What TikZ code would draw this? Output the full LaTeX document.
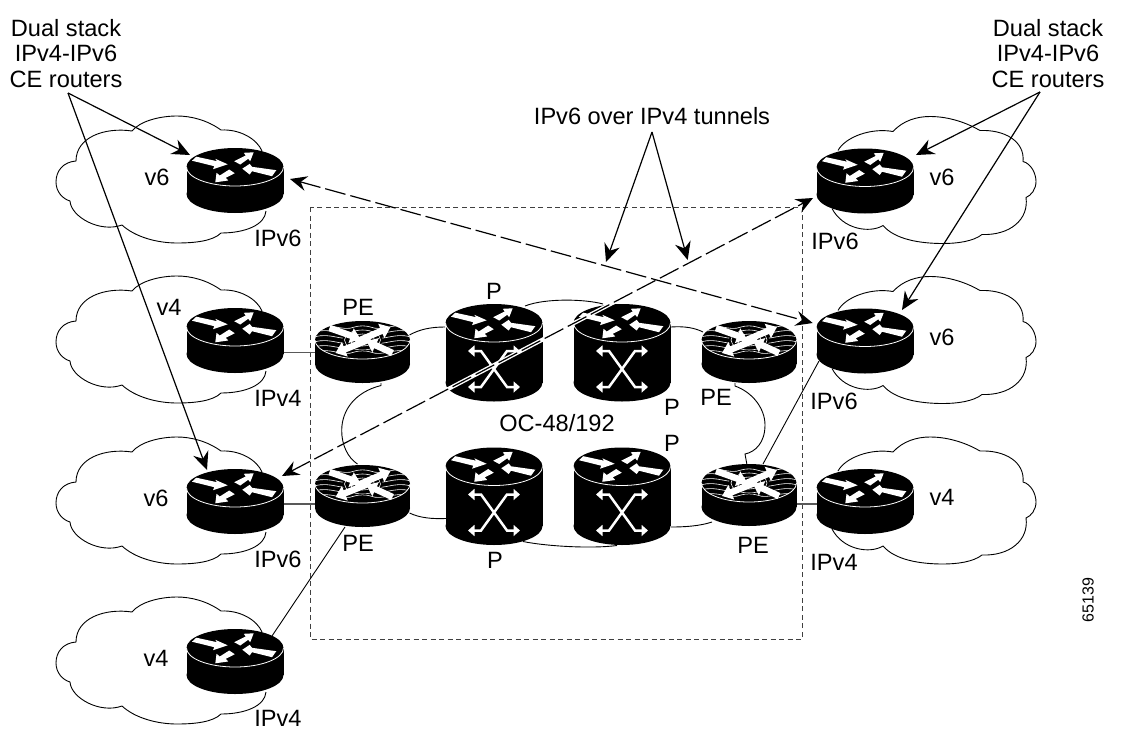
\documentclass[tikz,border=0pt]{standalone}
\usepackage{fontspec}
\setmainfont{Liberation Sans}
\usetikzlibrary{arrows.meta}
\tikzset{
  thinline/.style={line width=0.9pt,black},
  link/.style={line width=0.9pt,black},
  graylink/.style={line width=1.2pt,black!65},
  note/.style={line width=1.2pt,black,-{Stealth[length=18pt,width=16pt,inset=6pt]}},
  tunnel/.style={line width=1.2pt,black,dash pattern=on 21pt off 5pt,{Stealth[length=17pt,width=15pt,inset=6pt]}-{Stealth[length=17pt,width=15pt,inset=6pt]}},
  halo/.style={line width=4pt,white},
  frame/.style={line width=0.9pt,black!75,dash pattern=on 5pt off 3.5pt},
  lab/.style={inner sep=0pt,font=\fontsize{23.6}{25.5}\selectfont,text height=16.9pt,text depth=0pt},
  hub/.style={inner sep=0pt,minimum width=97pt,minimum height=38pt},
  whitearrow/.style={white,line width=6.5pt,-{Triangle[length=10pt,width=15pt]}},
  xarrow/.style={white,line width=2.5pt,{Triangle[length=6.5pt,width=11pt]}-{Triangle[length=6.5pt,width=11pt]}},
  cloudleft/.pic={
    \draw[thinline] (27,-16) .. controls (22,-28) and (5,-38) .. (-14,-37)
      .. controls (-28,-47) and (-44,-51) .. (-58,-51)
      .. controls (-75,-51) and (-95,-46) .. (-103,-36)
      .. controls (-130,-40) and (-159,-30) .. (-159,-6)
      .. controls (-172,-5) and (-179,4) .. (-179,15)
      .. controls (-179,25) and (-172,32) .. (-165,34)
      .. controls (-164,50) and (-135,66) .. (-113,58)
      .. controls (-100,70) and (-78,76) .. (-58,76)
      .. controls (-40,76) and (-22,74) .. (-14,66)
      .. controls (10,66) and (30,58) .. (31,44);
  },
  cloudright/.pic={
    \draw[thinline] (-27,-17) .. controls (-20,-30) and (5,-40) .. (28,-36)
      .. controls (38,-47) and (52,-51) .. (65,-51)
      .. controls (85,-51) and (103,-44) .. (115,-37)
      .. controls (140,-38) and (160,-26) .. (158,-6)
      .. controls (166,-4) and (171,6) .. (171,14)
      .. controls (171,22) and (166,28) .. (161,30)
      .. controls (164,52) and (145,68) .. (117,67)
      .. controls (108,74) and (92,76) .. (78,76)
      .. controls (55,76) and (30,72) .. (18,58)
      .. controls (5,66) and (-22,62) .. (-33,41);
  },
  routerpic/.pic={\cylinder{48.5}{27}\routertop},
  corepic/.pic={\cylinder{48.5}{59.5}\routertop
    \draw[xarrow] (-26,28) -- (-13,28) -- (13,64) -- (26,64);
    \draw[xarrow] (-26,64) -- (-13,64) -- (13,28) -- (26,28);
  },
  edgepic/.pic={\cylinder{47.5}{24}
    \begin{scope}
      \clip (0,0) ellipse[x radius=47.5pt,y radius=19pt];
      \foreach \d in {-13,-8,-3,2,7,12}{
        \draw[white,line width=0.6pt] (-48,\d) .. controls (-32,\d-5) and (-20,\d+5) .. (-8,\d)
          .. controls (-3,\d-1.5) and (3,\d-1.5) .. (8,\d)
          .. controls (20,\d+5) and (32,\d-5) .. (48,\d);
      }
      \fill[black] (0,0) ellipse[x radius=20pt,y radius=11pt];
      \draw[white,line width=0.6pt] (0,0) ellipse[x radius=12pt,y radius=6pt];
      \draw[white,line width=0.6pt] (0,0) ellipse[x radius=18pt,y radius=10pt];
    \end{scope}
    \draw[whitearrow] (-33,-12) -- (-2,-1);
    \draw[whitearrow] (-7,2) -- (28,-13);
    \draw[whitearrow] (8,-1) -- (-27,13);
    \draw[whitearrow] (30,13) -- (4,1);
  },
}
\newcommand{\cylinder}[2]{%
  \fill[black] (0,#2) ellipse[x radius=#1pt,y radius=19pt];
  \fill[black] (-#1,0) rectangle (#1,#2);
  \fill[black] (0,0) ellipse[x radius=#1pt,y radius=19pt];
  \draw[white,line width=0.8pt] (-#1,0) .. controls (-#1,10.5) and ({-0.55*#1},19) .. (0,19)
     .. controls ({0.55*#1},19) and (#1,10.5) .. (#1,0);
}
\newcommand{\routertop}{%
  \fill[white] (-43,-6.3) -- (-38.7,-10.3) -- (-18,-5.8) -- (-19.7,-8.2) -- (-7.3,-2.7) -- (-22,2.2) -- (-20.7,-0.8) -- cycle;
  \fill[white] (-0.8,-5.8) -- (5.2,-2.5) -- (13.2,-8.2) -- (15.2,-5.8) -- (18.7,-14.7) -- (8.8,-14.2) -- (10.7,-11.5) -- cycle;
  \fill[white] (41.3,3.2) -- (37,9.2) -- (17,4.2) -- (14.7,7.5) -- (7.3,1.7) -- (14.7,-3.2) -- (17,-0.2) -- cycle;
  \fill[white] (-5.8,2.5) -- (-0.2,6.2) -- (-9.2,10.8) -- (-6.8,13.5) -- (-19.7,15.3) -- (-18.5,5.8) -- (-15.2,8.5) -- cycle;
}
\begin{document}
\begin{tikzpicture}[x=1pt,y=-1pt]
\useasboundingbox (0,0) rectangle (1121,731);
\fill[white] (0,0) rectangle (1121,731);

% anchors of the devices
\foreach \n/\x/\y in {r1/235/167,r2/235/327,r3/235/488,r4/235/648,
  s1/865/167.5,s2/865/327.5,s3/865/488,
  e1/362.5/340,e2/749/340,e3/362.5/484,e4/749/483,
  c1/494/323,c2/622/323,c3/494/466.5,c4/622/466.5}{
  \node[hub] (\n) at (\x,\y) {};
}

% clouds
\foreach \x/\y in {235/167,235/327,235/488,235/648}{ \pic at (\x,\y) {cloudleft}; }
\foreach \x/\y in {865/167.5,865/327.5,865/488}{ \pic at (\x,\y) {cloudright}; }

% provider frame
\draw[frame] (310,207) rectangle (802,639);

% links
\draw[graylink] ([shift={(48,25.7)}]r2.center) -- ([shift={(-47,12.7)}]e1.center);
\draw[graylink] ([shift={(48,16)}]r3.center) -- ([shift={(-47,20)}]e3.center);
\draw[graylink] ([shift={(47,21)}]e4.center) -- ([shift={(-48,16)}]s3.center);
\draw[link] ([shift={(47,-5)}]e1.center) .. controls (420,329) and (432,327) .. ([shift={(-49,4)}]c1.center);
\draw[link] ([shift={(31,-17)}]c1.center) .. controls (545,298) and (585,299) .. ([shift={(-19,-19)}]c2.center);
\draw[link] ([shift={(49,4)}]c2.center) .. controls (685,326) and (695,328) .. ([shift={(-46,-8)}]e2.center);
\draw[link] ([shift={(18.5,43)}]e1.center) -- ++(0,2.5) .. controls (355,392) and (342,410) .. (341.7,430) .. controls (341.5,445) and (348,458) .. ([shift={(-5,-20)}]e3.center);
\draw[link] ([shift={(-14,43)}]e2.center) -- ++(0,3) .. controls (752,392) and (765,408) .. (765,425) .. controls (765,443) and (755,452) .. (745,454) -- ([shift={(-2,-18)}]e4.center);
\draw[link] ([shift={(47,29)}]e3.center) .. controls (420,518) and (432,519) .. ([shift={(-48,52)}]c3.center);
\draw[link] ([shift={(29,75)}]c3.center) .. controls (545,546) and (590,549) .. ([shift={(-5,79)}]c4.center);
\draw[link] ([shift={(49,60.5)}]c4.center) .. controls (685,527) and (700,526) .. ([shift={(-37,39)}]e4.center);
\draw[link] ([shift={(-46,33.5)}]s2.center) -- ([shift={(14,-19)}]e4.center);
\draw[link] ([shift={(-17.5,43)}]e3.center) -- ([shift={(37,-12)}]r4.center);

% devices
\foreach \x/\y in {235/167,235/327,235/488,235/648,865/167.5,865/327.5,865/488}{ \pic at (\x,\y) {routerpic}; }
\foreach \x/\y in {362.5/340,749/340,362.5/484,749/483}{ \pic at (\x,\y) {edgepic}; }
\foreach \x/\y in {494/323,622/323,494/466.5,622/466.5}{ \pic at (\x,\y) {corepic}; }

% tunnels
\coordinate (ta) at ([shift={(55,12)}]r1.center);
\coordinate (tb) at ([shift={(-52.3,-4.5)}]s2.center);
\coordinate (tc) at ([shift={(47,-12)}]r3.center);
\coordinate (td) at ([shift={(-52,30.5)}]s1.center);
\begin{scope}
  \clip (445,300) rectangle (620,402);
  \draw[halo] (tc) -- (td);
\end{scope}
\draw[tunnel] (ta) -- (tb);
\draw[tunnel] (tc) -- (td);

% labels
\node[lab,align=center] (dl) at (66,79) {Dual stack\\IPv4-IPv6\\CE routers};
\node[lab,align=center] (dr) at (1048,79) {Dual stack\\IPv4-IPv6\\CE routers};
\node[lab] (tn) at (652,116) {IPv6 over IPv4 tunnels};
\coordinate (da) at (68,93);
\coordinate (db) at (1040,92);
\coordinate (tt) at (652,132);
\draw[note] (da) -- ([shift={(-45,-12)}]r1.center);
\draw[note] (da) -- ([shift={(-28,-18)}]r3.center);
\draw[note] (db) -- ([shift={(51,-12.5)}]s1.center);
\draw[note] (db) -- ([shift={(37,-17.5)}]s2.center);
\draw[note] (tt) -- (606,262);
\draw[note] (tt) -- (687.7,260);

\node[lab] (a1) at (157,177) {v6};
\node[lab] (a2) at (169,307) {v4};
\node[lab] (a3) at (156,498) {v6};
\node[lab] (a4) at (156,658) {v4};
\node[lab] (b1) at (278,238) {IPv6};
\node[lab] (b2) at (278,398) {IPv4};
\node[lab] (b3) at (278,559) {IPv6};
\node[lab] (b4) at (278,718) {IPv4};
\node[lab] (p1) at (358,307) {PE};
\node[lab] (p2) at (358,543) {PE};
\node[lab] (p3) at (716,397) {PE};
\node[lab] (p4) at (753,545) {PE};
\node[lab] (q1) at (494,291) {P};
\node[lab] (q2) at (672,407) {P};
\node[lab] (q3) at (672,443) {P};
\node[lab] (q4) at (495,560) {P};
\node[lab] (oc) at (557,423) {OC-48/192};
\node[lab] (c1t) at (942,177) {v6};
\node[lab] (c2t) at (942,337) {v6};
\node[lab] (c3t) at (942,497) {v4};
\node[lab] (d1) at (835,241) {IPv6};
\node[lab] (d2) at (834,401) {IPv6};
\node[lab] (d3) at (834,562) {IPv4};
\node[inner sep=0pt,font=\fontsize{16}{18}\selectfont,rotate=90] (num) at (1088,600) {65139};
\end{tikzpicture}
\end{document}
